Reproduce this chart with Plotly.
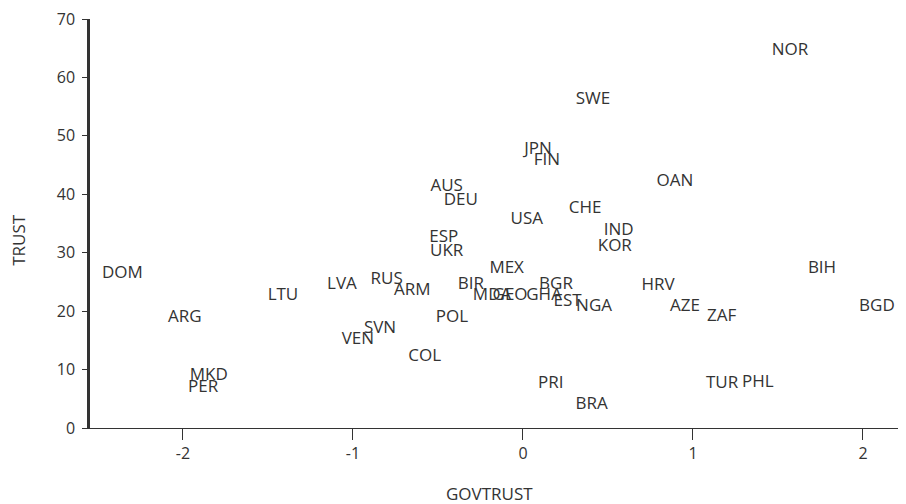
import plotly.graph_objects as go

countries = ["NOR", "SWE", "JPN", "FIN", "OAN", "AUS", "DEU", "CHE", "USA", "IND",
             "KOR", "ESP", "UKR", "MEX", "BIR", "MDA", "GEO", "GHA", "BGR", "EST",
             "NGA", "HRV", "AZE", "ZAF", "BIH", "BGD", "TUR", "PHL", "PRI", "BRA",
             "LTU", "LVA", "RUS", "ARM", "POL", "SVN", "VEN", "COL", "DOM", "ARG",
             "MKD", "PER"]
govtrust = [1.571, 0.412, 0.088, 0.141, 0.894, -0.449, -0.366, 0.365, 0.022, 0.563,
            0.540, -0.466, -0.449, -0.096, -0.306, -0.182, -0.076, 0.124, 0.194, 0.262,
            0.418, 0.794, 0.953, 1.169, 1.759, 2.082, 1.171, 1.382, 0.163, 0.404,
            -1.412, -1.065, -0.802, -0.651, -0.418, -0.841, -0.971, -0.578, -2.356, -1.989,
            -1.848, -1.882]
trust = [64.5, 56.2, 47.7, 45.8, 42.1, 41.3, 38.9, 37.5, 35.7, 33.8,
         31.0, 32.5, 30.2, 27.3, 24.6, 22.6, 22.6, 22.6, 24.6, 21.6,
         20.8, 24.4, 20.7, 19.0, 27.2, 20.7, 7.6, 7.8, 7.6, 3.9,
         22.6, 24.6, 25.4, 23.5, 18.9, 17.0, 15.1, 12.2, 26.4, 18.9,
         9.0, 6.9]

x_ticks = [-2, -1, 0, 1, 2]
x_tick_text = ["-2", "-1", "0", "1", "2"]
y_ticks = [0, 10, 20, 30, 40, 50, 60, 70]

font_family = "Open Sans, Noto Sans, sans-serif"
text_color = "#333333"

fig = go.Figure()
fig.add_trace(go.Scatter(
    x=govtrust, y=trust, text=countries,
    mode="text", textposition="middle center",
    textfont=dict(family=font_family, size=17, color=text_color),
    hoverinfo="text", showlegend=False,
))

# page body has an 8px margin, so the figure is 8px smaller than the window
fig.update_layout(
    width=898, height=496,
    margin=dict(l=82, r=0, t=8, b=76),
    paper_bgcolor="white", plot_bgcolor="white",
    font=dict(family=font_family, color=text_color),
    xaxis=dict(
        range=[-2.547, 2.253], tickvals=x_ticks, ticktext=x_tick_text,
        showgrid=False, zeroline=False,
        showline=True, linecolor="#333333", linewidth=1.2,
        ticks="outside", ticklen=11, tickwidth=1.2, tickcolor="#333333",
        tickfont=dict(size=16, color=text_color),
    ),
    yaxis=dict(
        range=[0, 70], tickvals=y_ticks,
        showgrid=False, zeroline=False,
        showline=True, linecolor="#333333", linewidth=2.5,
        ticks="outside", ticklen=5, tickwidth=1.2, tickcolor="#333333",
        tickfont=dict(size=16, color=text_color),
        ticklabelstandoff=4, ticklabeloverflow="allow",
    ),
    annotations=[
        dict(text="GOVTRUST", xref="paper", yref="paper", x=0.49, y=0,
             xanchor="center", yanchor="middle", yshift=-65, showarrow=False,
             font=dict(size=17, color=text_color)),
        dict(text="TRUST", xref="paper", yref="paper", x=0, y=0.46,
             xanchor="center", yanchor="middle", xshift=-71, textangle=-90,
             showarrow=False, font=dict(size=17, color=text_color)),
    ],
)

fig.write_html("out.html")
